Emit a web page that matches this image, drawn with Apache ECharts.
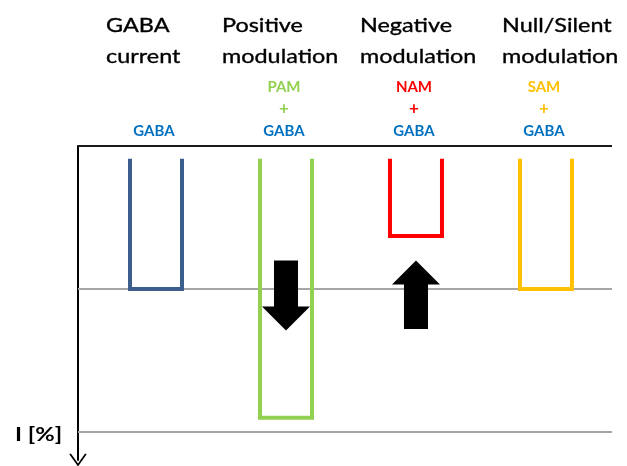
<!DOCTYPE html>
<html>
<head>
<meta charset="utf-8">
<script src="https://cdn.jsdelivr.net/npm/echarts@6/dist/echarts.min.js"></script>
<style>
  html, body { margin: 0; padding: 0; background: #fff; }
  #chart { width: 627px; height: 466px; }
</style>
</head>
<body>
<div id="chart"></div>
<script>
// ---- data ----
const categories = ['GABA current', 'Positive modulation', 'Negative modulation', 'Null/Silent modulation'];
const headerLine1 = ['GABA', 'Positive', 'Negative', 'Null/Silent'];
const headerLine2 = ['current', 'modulation', 'modulation', 'modulation'];
const modulatorLabels = ['', 'PAM', 'NAM', 'SAM'];
const agonistLabels = ['GABA', 'GABA', 'GABA', 'GABA'];
const currentStart = [9, 9, 9, 9];          // I [%] where trace opens
const currentPeak = [100, 190, 63, 100];    // I [%] peak current
const arrowFrom = [null, 80, 128, null];
const arrowTo = [null, 129, 80, null];
const referenceLevels = [100, 200];
const axisLabel = 'I [%]';

// ---- styles ----
const barColors = ['#3b5e8c', '#92d050', '#ff0000', '#ffc000'];
const modColors = ['#0070c0', '#92d050', '#ff0000', '#ffc000'];
const agonistColor = '#0070c0';
const headerLeft = [106, 222, 360, 502];

const chart = echarts.init(document.getElementById('chart'), null, { renderer: 'canvas' });

const barData = categories.map((c, i) => [i, currentStart[i], currentPeak[i]]);
const arrowData = [];
categories.forEach((c, i) => { if (arrowFrom[i] != null) arrowData.push([i, arrowFrom[i], arrowTo[i]]); });
const labelData = categories.map((c, i) => [i, 0]);

const graphics = [];
headerLine1.forEach((t, i) => {
  graphics.push({ type: 'text', x: headerLeft[i], y: 26, scaleX: 1.17,
    style: { text: t, font: '20px Lato', fill: '#000', stroke: '#000', lineWidth: 0.35, textAlign: 'left', textVerticalAlign: 'middle' } });
  graphics.push({ type: 'text', x: headerLeft[i], y: 57, scaleX: 1.17,
    style: { text: headerLine2[i], font: '20px Lato', fill: '#000', stroke: '#000', lineWidth: 0.35, textAlign: 'left', textVerticalAlign: 'middle' } });
});
graphics.push({ type: 'text', x: 15, y: 435, scaleX: 1.25,
  style: { text: axisLabel, font: 'bold 19px Lato', fill: '#000', textAlign: 'left', textVerticalAlign: 'middle' } });

const option = {
  animation: false,
  backgroundColor: '#fff',
  grid: { left: 78, right: 15, top: 146, bottom: 6 },
  xAxis: { type: 'value', min: -0.6, max: 3.508, show: false },
  yAxis: {
    type: 'value', inverse: true, min: 0, max: 219.6,
    axisLabel: { show: false }, axisTick: { show: false }, splitLine: { show: false },
    axisLine: {
      show: true, onZero: false,
      lineStyle: { color: '#000', width: 2 },
      symbol: ['path://M0,14 L10,0 L20,14 L18.2,15 L10,3.4 L1.8,15 Z', 'none'],
      symbolSize: [18, 13]
    }
  },
  graphic: graphics,
  series: [
    {
      type: 'line', data: [], z: 1, silent: true,
      markLine: {
        z: 1, silent: true, symbol: 'none', label: { show: false }, animation: false,
        data: [{ yAxis: 0, lineStyle: { color: '#1a1a1a', width: 2, type: 'solid' } }]
          .concat(referenceLevels.map(v => ({ yAxis: v, lineStyle: { color: '#a6a6a6', width: 2, type: 'solid' } })))
      }
    },
    {
      type: 'custom', z: 3, silent: true, clip: false,
      data: barData,
      renderItem: function (params, api) {
        const i = api.value(0);
        const top = api.coord([i, api.value(1)]);
        const bot = api.coord([i, api.value(2)]);
        const hw = 26;
        return {
          type: 'polyline',
          shape: { points: [[top[0] - hw, top[1]], [bot[0] - hw, bot[1]], [bot[0] + hw, bot[1]], [top[0] + hw, top[1]]] },
          style: { stroke: barColors[i], lineWidth: 4, fill: null, lineJoin: 'miter' }
        };
      }
    },
    {
      type: 'custom', z: 4, silent: true, clip: false,
      data: arrowData,
      renderItem: function (params, api) {
        const i = api.value(0);
        const s = api.coord([i, api.value(1)]);
        const e = api.coord([i, api.value(2)]);
        const dir = e[1] > s[1] ? 1 : -1;
        const x = s[0];
        const head = 24, sh = 12, hh = 24;
        const yb = e[1] - dir * head;
        return {
          type: 'polygon',
          shape: { points: [[x - sh, s[1]], [x - sh, yb], [x - hh, yb], [x, e[1]], [x + hh, yb], [x + sh, yb], [x + sh, s[1]]] },
          style: { fill: '#000' }
        };
      }
    },
    {
      type: 'custom', z: 5, silent: true, clip: false,
      data: labelData,
      renderItem: function (params, api) {
        const i = api.value(0);
        const p = api.coord([i, 0]);
        const x = p[0] - 2;
        const children = [];
        if (modulatorLabels[i]) {
          children.push({ type: 'text', x: x, y: 87, style: { text: modulatorLabels[i], font: 'bold 15px Lato', fill: modColors[i], textAlign: 'center', textVerticalAlign: 'middle' } });
          children.push({ type: 'text', x: x, y: 109, style: { text: '+', font: 'bold 17px Lato', fill: modColors[i], textAlign: 'center', textVerticalAlign: 'middle' } });
        }
        children.push({ type: 'text', x: x, y: 131, style: { text: agonistLabels[i], font: 'bold 15px Lato', fill: agonistColor, textAlign: 'center', textVerticalAlign: 'middle' } });
        return { type: 'group', children: children };
      }
    }
  ]
};
chart.setOption(option);
</script>
</body>
</html>
